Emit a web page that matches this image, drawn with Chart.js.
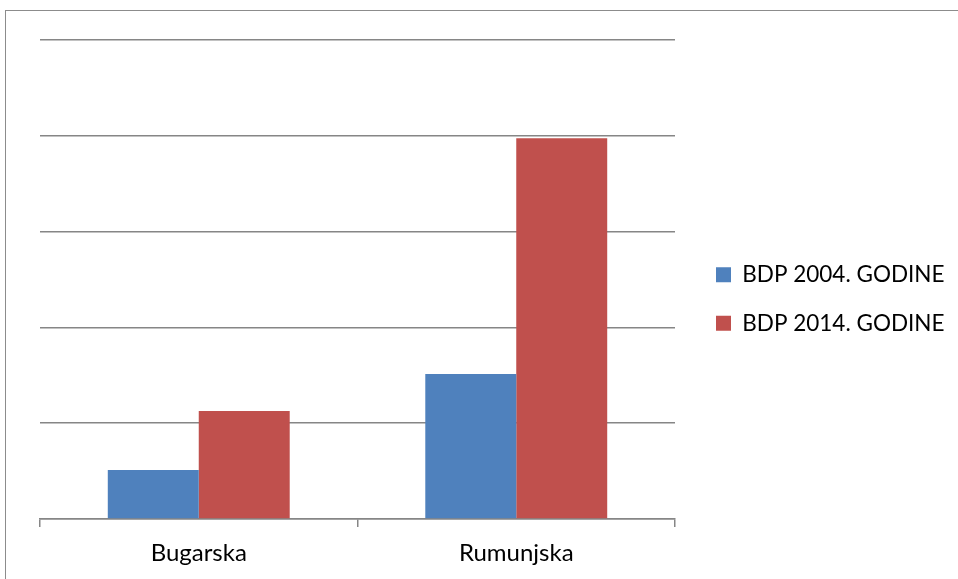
<!DOCTYPE html>
<html>
<head>
<meta charset="utf-8">
<script src="https://cdn.jsdelivr.net/npm/chart.js@4/dist/chart.umd.min.js"></script>
<style>
  html, body { margin: 0; padding: 0; background: #fff; overflow: hidden; }
  #wrap { position: relative; width: 958px; height: 579px; }
  #frame { position: absolute; left: 5px; top: 10px; width: 1000px; height: 700px; border: 1.5px solid #8c8c8c; box-sizing: border-box; }
  canvas { position: absolute; left: 0; top: 0; }
</style>
</head>
<body>
<div id="wrap">
  <div id="frame"></div>
  <canvas id="c" width="958" height="579"></canvas>
</div>
<script>
const categories = ["Bugarska", "Rumunjska"];
const seriesNames = ["BDP 2004. GODINE", "BDP 2014. GODINE"];
const gdp2004 = [20.5, 60.5];
const gdp2014 = [45.1, 159];

const FONT = "Lato, 'Open Sans', sans-serif";
const LEGEND_SIZE = 22.5;
const LEGEND_PAD = 26;

// layout geometry (pixels)
const PLOT_LEFT = 40, PLOT_RIGHT = 675, PLOT_TOP = 40, PLOT_BOTTOM = 519;
const LEGEND_GAP = 15;
const TOP_SPACER = 11;     // legend spans from the outer padding; plot starts a bit lower
const legendLeft = PLOT_RIGHT + LEGEND_GAP;
const mctx = document.createElement('canvas').getContext('2d');
mctx.font = LEGEND_SIZE + 'px ' + FONT;
const textW = Math.max(...seriesNames.map(s => mctx.measureText(s).width));
const legendW = LEGEND_PAD + 15 + LEGEND_SIZE / 2 + textW + 10;
const padRight = Math.max(0, 958 - legendLeft - legendW);
const EXTRA_LEFT = 300;   // widen available layout width so the legend is not squeezed
const padBottom = 10;

new Chart(document.getElementById('c'), {
  type: 'bar',
  data: {
    labels: categories,
    datasets: [
      { label: seriesNames[0], data: gdp2004, backgroundColor: '#4F81BD', borderWidth: 0 },
      { label: seriesNames[1], data: gdp2014, backgroundColor: '#C0504D', borderWidth: 0 }
    ]
  },
  options: {
    responsive: false,
    animation: false,
    devicePixelRatio: 1,
    categoryPercentage: 0.573,
    barPercentage: 1,
    layout: { padding: { left: -EXTRA_LEFT, top: PLOT_TOP - TOP_SPACER, bottom: padBottom, right: padRight } },
    plugins: {
      tooltip: { enabled: false },
      legend: {
        position: 'right',
        labels: {
          boxWidth: 15, boxHeight: 15, padding: LEGEND_PAD,
          color: '#000',
          font: { family: FONT, size: LEGEND_SIZE }
        }
      }
    },
    scales: {
      x: {
        grid: { display: true, drawOnChartArea: false, offset: true, tickLength: 8, color: '#868686', lineWidth: 1.5 },
        border: { display: true, color: '#868686', width: 1.5 },
        ticks: { color: '#000', padding: 12, font: { family: FONT, size: 24 } },
        afterFit: (s) => { s.height = 579 - padBottom - PLOT_BOTTOM; }
      },
      y: {
        min: 0, max: 200,
        ticks: { display: false, stepSize: 40 },
        grid: { color: '#868686', lineWidth: 1.5, drawTicks: false },
        border: { display: false },
        afterFit: (s) => { s.width = EXTRA_LEFT + PLOT_LEFT; }
      },
      gap: {
        type: 'linear',
        position: 'right',
        display: false,
        afterFit: (s) => { s.width = LEGEND_GAP; }
      },
      topSpace: {
        type: 'linear',
        position: 'top',
        display: false,
        afterFit: (s) => { s.height = TOP_SPACER; }
      }
    }
  }
});
</script>
</body>
</html>
